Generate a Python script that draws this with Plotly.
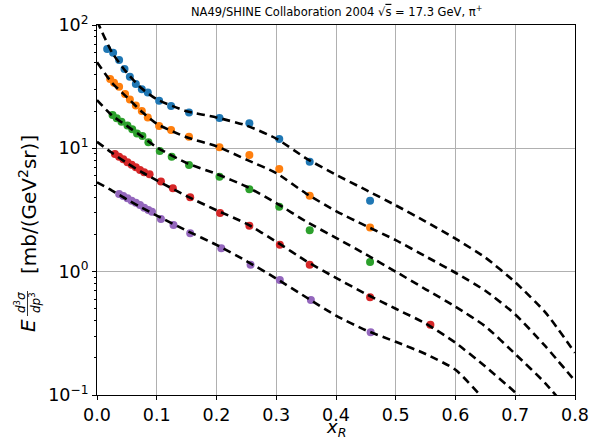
import plotly.graph_objects as go

# ---- data points (x_R, E d3sigma/dp3) ----
blue_x = [0.017, 0.027, 0.037, 0.046, 0.055, 0.065, 0.075, 0.085, 0.104, 0.124, 0.154, 0.205, 0.255, 0.305, 0.356, 0.457]
blue_y = [63.8, 59.6, 52.0, 44.0, 38.1, 33.2, 30.1, 28.3, 24.3, 22.0, 19.5, 17.6, 16.0, 11.9, 7.8, 3.76]

orange_x = [0.022, 0.0285, 0.037, 0.047, 0.055, 0.065, 0.075, 0.085, 0.104, 0.124, 0.154, 0.205, 0.255, 0.305, 0.356, 0.457]
orange_y = [36.5, 34.0, 31.6, 27.6, 24.9, 22.2, 20.1, 17.8, 15.2, 14.1, 12.4, 10.2, 8.83, 6.79, 4.13, 2.28]

green_x = [0.026, 0.033, 0.041, 0.051, 0.059, 0.067, 0.076, 0.086, 0.105, 0.125, 0.154, 0.205, 0.255, 0.305, 0.356, 0.457]
green_y = [18.6, 17.5, 16.4, 15.3, 14.3, 13.2, 12.6, 11.2, 9.51, 8.55, 7.33, 5.89, 4.66, 3.36, 2.17, 1.20]

red_x = [0.030, 0.037, 0.044, 0.051, 0.058, 0.065, 0.072, 0.079, 0.088, 0.107, 0.127, 0.156, 0.206, 0.255, 0.306, 0.356, 0.457, 0.558]
red_y = [8.99, 8.55, 8.15, 7.70, 7.36, 7.01, 6.67, 6.39, 6.15, 5.38, 4.74, 4.01, 2.99, 2.36, 1.65, 1.14, 0.62, 0.371]

purple_x = [0.037, 0.044, 0.051, 0.058, 0.065, 0.072, 0.079, 0.086, 0.092, 0.107, 0.128, 0.156, 0.208, 0.257, 0.306, 0.358, 0.458]
purple_y = [4.26, 4.10, 3.93, 3.76, 3.62, 3.47, 3.30, 3.16, 3.06, 2.67, 2.39, 2.05, 1.55, 1.14, 0.855, 0.589, 0.322]

# ---- model curves (on a grid) ----
curve_x = [0.0, 0.025, 0.05, 0.075, 0.1, 0.15, 0.2, 0.25, 0.3, 0.35, 0.4, 0.45, 0.5, 0.55, 0.6, 0.65, 0.7, 0.75, 0.8]
curve_blue = [108, 60, 41, 30.5, 25.0, 20.0, 17.8, 15.3, 12.0, 8.3, 6.1, 4.6, 3.45, 2.55, 1.85, 1.30, 0.82, 0.47, 0.22]
curve_orange = [50, 34, 26, 19.8, 15.8, 12.3, 10.4, 8.1, 6.3, 4.3, 3.1, 2.35, 1.80, 1.33, 0.98, 0.70, 0.45, 0.25, 0.13]
curve_green = [24.6, 18.5, 15.2, 12.5, 10.2, 7.6, 6.2, 4.9, 3.6, 2.55, 1.88, 1.38, 1.0, 0.72, 0.52, 0.36, 0.215, 0.125, 0.065]
curve_red = [11.3, 9.2, 7.6, 6.4, 5.5, 4.1, 3.15, 2.45, 1.75, 1.22, 0.89, 0.66, 0.50, 0.38, 0.265, 0.17, 0.105, 0.062, 0.035]
curve_purple = [5.3, 4.55, 3.85, 3.3, 2.85, 2.15, 1.65, 1.22, 0.88, 0.62, 0.44, 0.335, 0.27, 0.215, 0.16, 0.09, 0.05, 0.028, 0.015]

x_ticks = [0.0, 0.1, 0.2, 0.3, 0.4, 0.5, 0.6, 0.7, 0.8]
y_tickvals = [0.1, 1, 10, 100]
y_ticktext = ["10<sup>\u22121</sup>", "10<sup>0</sup>", "10<sup>1</sup>", "10<sup>2</sup>"]

series = [
    (blue_x, blue_y, curve_blue, "#1f77b4"),
    (orange_x, orange_y, curve_orange, "#ff7f0e"),
    (green_x, green_y, curve_green, "#2ca02c"),
    (red_x, red_y, curve_red, "#d62728"),
    (purple_x, purple_y, curve_purple, "#9467bd"),
]

W, H = 593, 440
L, R, T, B = 97, 18, 25, 45
PW, PH = W - L - R, H - T - B


def px(xp):
    return (xp - L) / PW


def py(yp):
    return (H - B - yp) / PH


fig = go.Figure()
for sx, sy, cy, col in series:
    fig.add_trace(go.Scatter(x=sx, y=sy, mode="markers",
                             marker=dict(color=col, size=8, line=dict(width=0)),
                             showlegend=False))
for sx, sy, cy, col in series:
    fig.add_trace(go.Scatter(x=curve_x, y=cy, mode="lines",
                             line=dict(color="black", width=2.6, dash="8px,5px", shape="spline", smoothing=0.6),
                             showlegend=False))

font_family = "DejaVu Sans"
ann = [
    dict(text="NA49/SHINE Collaboration 2004 \u221a<span style='text-decoration:overline'>s</span> = 17.3 GeV, \u03c0<sup>+</sup>",
         x=0.5, y=py(12), font=dict(size=11.5)),
    dict(text="<i>x</i><sub><i>R</i></sub>", x=px(336), y=py(428), font=dict(size=18)),
    dict(text="[mb/(GeV<sup>2</sup>sr)]", x=px(28), y=py(205), textangle=-90, font=dict(size=20)),
    dict(text="<i>E</i>", x=px(28), y=py(326), textangle=-90, font=dict(size=20)),
    dict(text="<i>d</i><sup>3</sup><i>\u03c3</i>", x=px(20), y=py(303), textangle=-90, font=dict(size=12)),
    dict(text="<i>dp</i><sup>3</sup>", x=px(35), y=py(303), textangle=-90, font=dict(size=12)),
]
annotations = []
for a in ann:
    a.update(xref="paper", yref="paper", showarrow=False, xanchor="center", yanchor="middle")
    a["font"].update(family=font_family, color="black")
    annotations.append(a)

fig.update_layout(
    width=W, height=H,
    margin=dict(l=L, r=R, t=T, b=B),
    paper_bgcolor="white", plot_bgcolor="white",
    font=dict(family=font_family, color="black"),
    annotations=annotations,
    shapes=[dict(type="line", xref="paper", yref="paper", x0=px(27.5), x1=px(27.5), y0=py(291), y1=py(316),
                 line=dict(color="black", width=0.8))],
)
fig.update_xaxes(
    range=[0, 0.8], tickvals=x_ticks, tickformat=".1f", automargin=False,
    showgrid=True, gridcolor="#b0b0b0", gridwidth=0.8,
    showline=True, linecolor="black", linewidth=1, mirror=True,
    ticks="outside", ticklen=4, tickcolor="black",
    tickfont=dict(size=17.5), zeroline=False,
)
fig.update_yaxes(
    type="log", range=[-1, 2], tickvals=y_tickvals, ticktext=y_ticktext, automargin=False,
    showgrid=True, gridcolor="#b0b0b0", gridwidth=0.8,
    showline=True, linecolor="black", linewidth=1, mirror=True,
    ticks="outside", ticklen=4, tickcolor="black",
    minor=dict(ticks="outside", ticklen=2.5, tickcolor="black", showgrid=False,
               tickvals=[v * m for v in [0.1, 1, 10] for m in range(2, 10)]),
    tickfont=dict(size=17.5), zeroline=False,
)

fig.write_html("out.html", config={"displayModeBar": False},
               post_script="document.body.style.margin='0';document.body.style.padding='0';")
